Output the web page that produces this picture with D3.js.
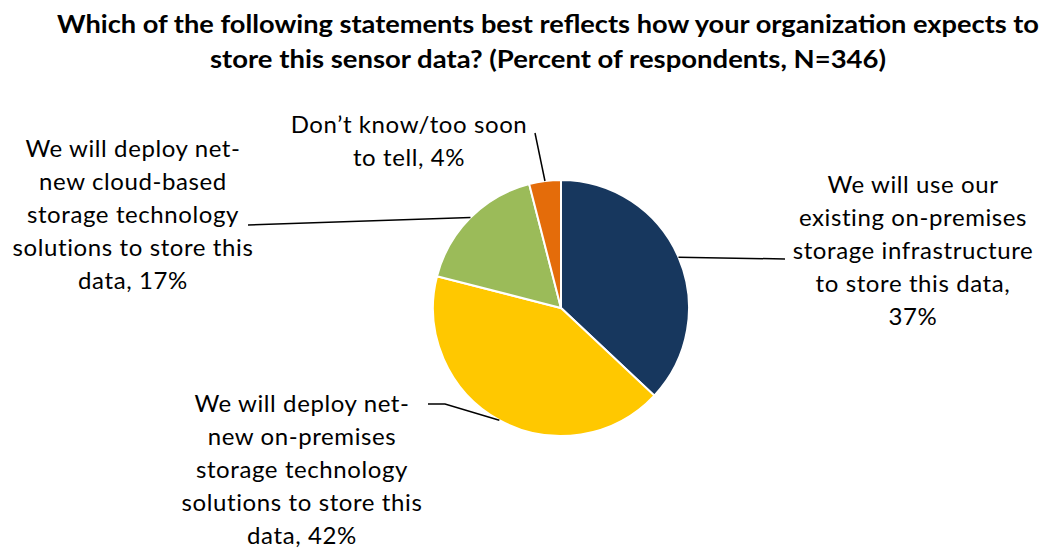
<!DOCTYPE html>
<html>
<head>
<meta charset="utf-8">
<script src="https://cdn.jsdelivr.net/npm/d3@7"></script>
<style>
  body { margin: 0; background: #fff; }
  text { font-family: Lato, "Open Sans", sans-serif; fill: #000; }
</style>
</head>
<body>
<svg id="chart"></svg>
<script>
// data
const categories = [
  "We will use our existing on-premises storage infrastructure to store this data",
  "We will deploy net-new on-premises storage technology solutions to store this data",
  "We will deploy net-new cloud-based storage technology solutions to store this data",
  "Don’t know/too soon to tell"
];
const values = [37, 42, 17, 4];
const labelLines = [
  ["We will use our", "existing on-premises", "storage infrastructure", "to store this data,", "37%"],
  ["We will deploy net-", "new on-premises", "storage technology", "solutions to store this", "data, 42%"],
  ["We will deploy net-", "new cloud-based", "storage technology", "solutions to store this", "data, 17%"],
  ["Don’t know/too soon", "to tell, 4%"]
];
const colors = ["#17375e", "#ffc800", "#9bbb59", "#e46c0a"];

const width = 1047, height = 550;
const cx = 561, cy = 308, radius = 128;

const svg = d3.select("#chart").attr("width", width).attr("height", height);

// title
const title = svg.append("text")
  .attr("text-anchor", "middle")
  .style("font-weight", "bold")
  .style("font-size", "24px");
title.append("tspan").attr("x", 548).attr("y", 33)
  .attr("textLength", 982).attr("lengthAdjust", "spacingAndGlyphs")
  .text("Which of the following statements best reflects how your organization expects to");
title.append("tspan").attr("x", 548).attr("y", 68)
  .attr("textLength", 676).attr("lengthAdjust", "spacingAndGlyphs")
  .text("store this sensor data? (Percent of respondents, N=346)");

const pie = d3.pie().value(d => d).sort(null);
const arcs = pie(values);
const arc = d3.arc().innerRadius(0).outerRadius(radius);

const g = svg.append("g").attr("transform", `translate(${cx},${cy})`);
g.selectAll("path")
  .data(arcs)
  .enter()
  .append("path")
  .attr("d", arc)
  .attr("fill", (d, i) => colors[i])
  .attr("stroke", "#fff")
  .style("stroke-width", "2px");

// label placement (layout, not data)
const labelPos = [
  { x: 913, y: 193, line: [[785, 259]] },
  { x: 302, y: 412, line: [[445, 404], [428, 404]] },
  { x: 133, y: 157, line: [[248, 225]] },
  { x: 409, y: 133, line: [[535, 133]] }
];

arcs.forEach((d, i) => {
  const mid = (d.startAngle + d.endAngle) / 2;
  const start = [cx + radius * Math.sin(mid), cy - radius * Math.cos(mid)];
  const pts = [start].concat(labelPos[i].line);
  svg.append("path")
    .attr("d", d3.line()(pts))
    .attr("fill", "none")
    .attr("stroke", "#000")
    .attr("stroke-width", 1.5);

  const t = svg.append("text")
    .attr("text-anchor", "middle")
    .style("font-size", "24px")
    .style("letter-spacing", "0.6px");
  labelLines[i].forEach((ln, j) => {
    t.append("tspan")
      .attr("x", labelPos[i].x)
      .attr("y", labelPos[i].y + j * 33)
      .text(ln);
  });
});
</script>
</body>
</html>
